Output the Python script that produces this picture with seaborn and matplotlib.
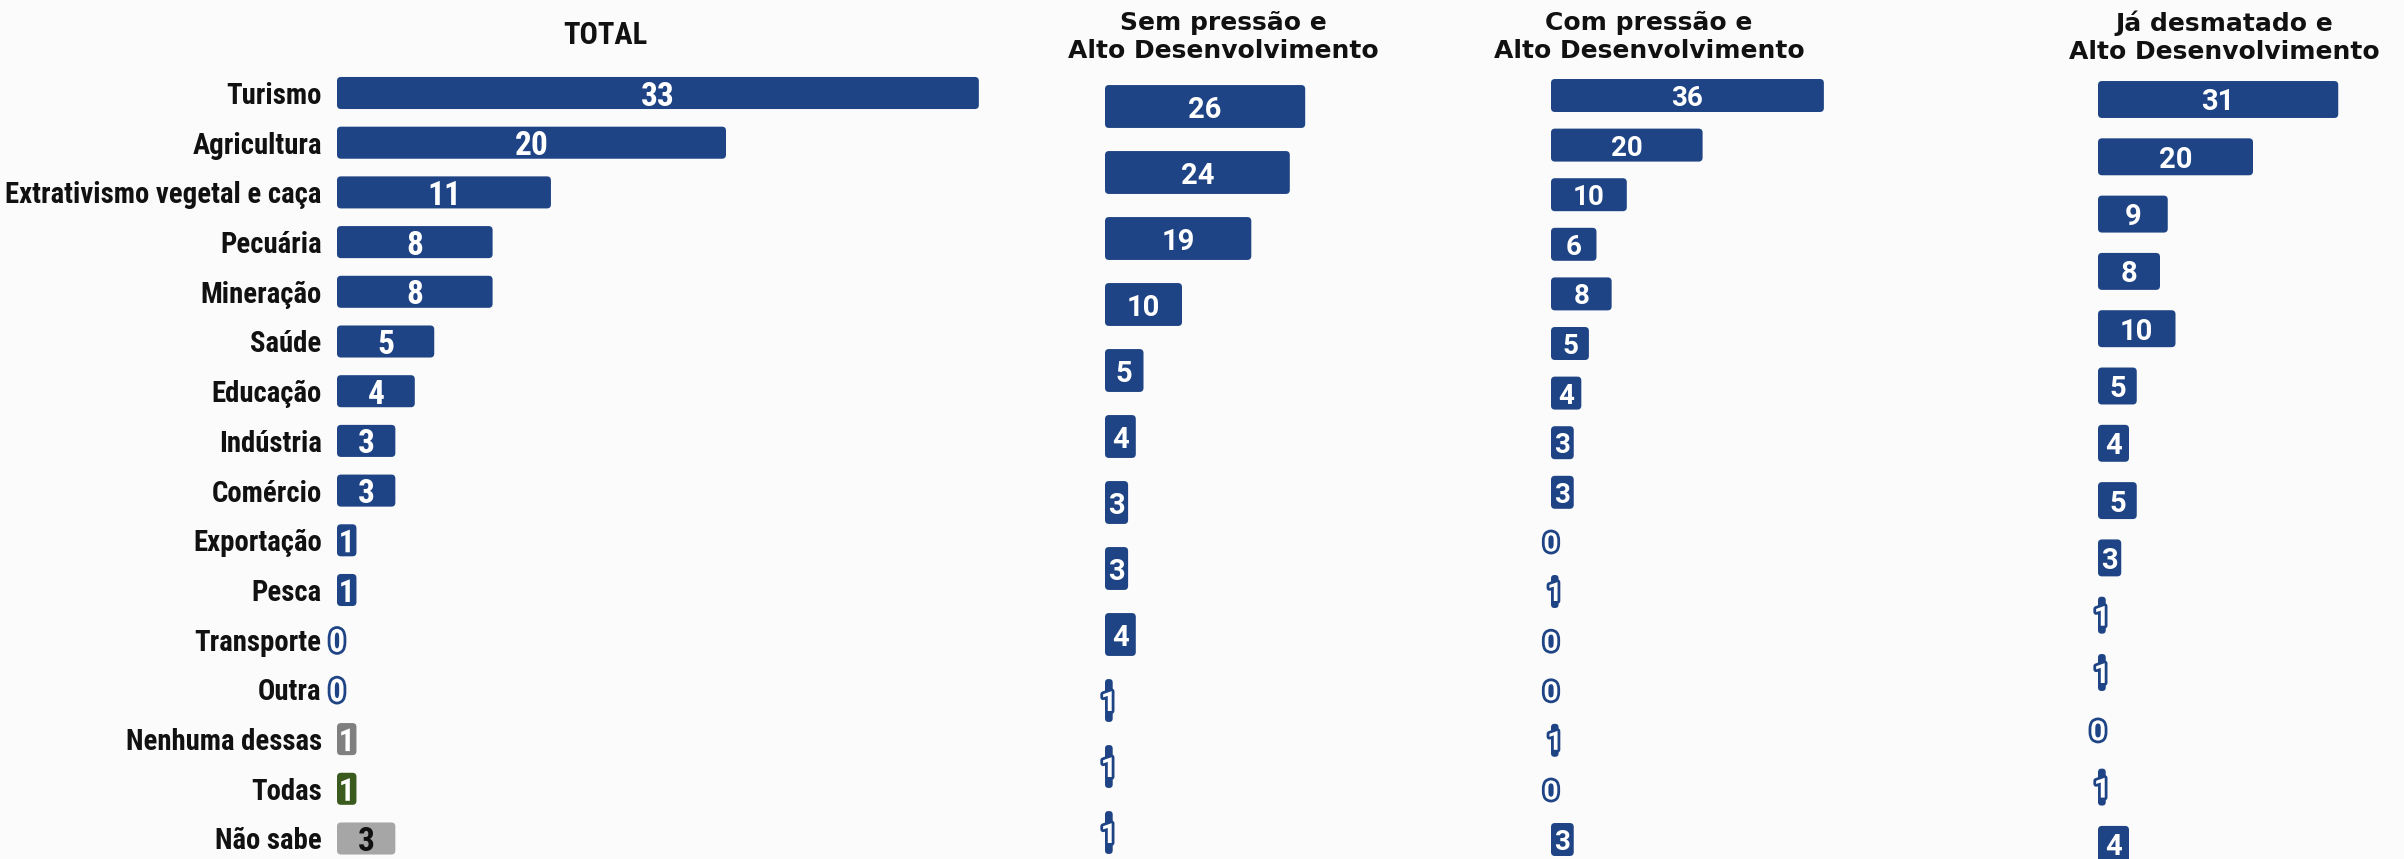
import matplotlib
matplotlib.use("Agg")
import matplotlib.pyplot as plt
import matplotlib.patheffects as pe
from matplotlib import font_manager
from matplotlib.patches import FancyBboxPatch
import seaborn as sns

# ---------------- data ----------------
total_labels = ["Turismo", "Agricultura", "Extrativismo vegetal e caça", "Pecuária",
                "Mineração", "Saúde", "Educação", "Indústria", "Comércio",
                "Exportação", "Pesca", "Transporte", "Outra", "Nenhuma dessas",
                "Todas", "Não sabe"]
total_values = [33, 20, 11, 8, 8, 5, 4, 3, 3, 1, 1, 0, 0, 1, 1, 3]

sem_pressao_values = [26, 24, 19, 10, 5, 4, 3, 3, 4, 1, 1, 1]
com_pressao_values = [36, 20, 10, 6, 8, 5, 4, 3, 3, 0, 1, 0, 0, 1, 0, 3]
ja_desmatado_values = [31, 20, 9, 8, 10, 5, 4, 5, 3, 1, 1, 0, 1, 4]

titles = ["TOTAL", "Sem pressão e\nAlto Desenvolvimento",
          "Com pressão e\nAlto Desenvolvimento", "Já desmatado e\nAlto Desenvolvimento"]

BLUE = "#1F4485"
total_colors = [BLUE] * 13 + ["#7F7F7F", "#3A5A1E", "#A6A6A6"]
total_text_colors = ["white"] * 15 + ["#111111"]

# ---------------- fonts ----------------
sns.set_theme(style="white")
avail = {f.name for f in font_manager.fontManager.ttflist}
def pick(*names):
    for n in names:
        if n in avail:
            return n
    return "DejaVu Sans"
COND = pick("Liberation Sans Narrow", "Roboto Condensed", "Open Sans Condensed", "DejaVu Sans")
NUM = pick("Roboto", "Open Sans", "DejaVu Sans")
TITLE = pick("DejaVu Sans")
plt.rcParams["font.family"] = [COND, "DejaVu Sans"]

W, H = 2404, 859
fig = plt.figure(figsize=(W / 100, H / 100), dpi=100)
fig.patch.set_facecolor("#FBFBFB")


def make_axes(x0, sx, y0, sy, x_right, y_top=55, y_bot=H):
    ax = fig.add_axes([x0 / W, 1 - y_bot / H, (x_right - x0) / W, (y_bot - y_top) / H])
    ax.set_facecolor("none")
    return ax, (0, (x_right - x0) / sx), ((y_bot - y0) / sy, (y_top - y0) / sy)


def style(ax, xlim, ylim):
    ax.set_xlim(*xlim)
    ax.set_ylim(*ylim)
    sns.despine(ax=ax, left=True, bottom=True)
    ax.set_xlabel("")
    ax.set_ylabel("")
    ax.set_xticks([])
    ax.grid(False)


def round_bars(ax, sx, sy, rad_px=4):
    for p in list(ax.patches):
        x, y = p.get_x(), p.get_y()
        w, h = p.get_width(), p.get_height()
        if w <= 0:
            p.remove()
            continue
        r_px = min(rad_px, w * sx / 2.2)
        fb = FancyBboxPatch((x, y), w, h,
                            boxstyle=f"round,pad=0,rounding_size={r_px / sx}",
                            mutation_aspect=sx / sy,
                            facecolor=p.get_facecolor(), edgecolor="none", zorder=p.get_zorder())
        p.remove()
        ax.add_patch(fb)


def label_bars(ax, values, sx_px, colors, text_colors, fsize, family):
    for i, v in enumerate(values):
        small = v * sx_px < fsize * 1.0
        if small:
            t = ax.text(v / 2, i, str(v), ha="center", va="center_baseline",
                        color="white", fontsize=fsize * 0.95, fontweight="bold",
                        family=family, zorder=5)
            t.set_path_effects([pe.Stroke(linewidth=4, foreground=colors[i]), pe.Normal()])
        else:
            ax.text(v / 2, i, str(v), ha="center", va="center_baseline",
                    color=text_colors[i], fontsize=fsize, fontweight="bold",
                    family=family, zorder=5)


# ---------------- panel 1: TOTAL ----------------
SX1, SY1 = 19.45, 49.7
ax1, xl, yl = make_axes(337, SX1, 93, SY1, 1020)
sns.barplot(x=total_values, y=total_labels, hue=total_labels, palette=total_colors,
            legend=False, orient="h", width=0.645, saturation=1, ax=ax1)
style(ax1, xl, yl)
round_bars(ax1, SX1, SY1)
ax1.tick_params(axis="y", length=0, pad=11, labelsize=20.7)
for lab in ax1.get_yticklabels():
    lab.set_fontweight("bold")
    lab.set_color("#111111")
    lab.set_family([COND, "DejaVu Sans"])
label_bars(ax1, total_values, SX1, total_colors, total_text_colors, 24, [COND, "DejaVu Sans"])

# ---------------- panels 2-4 ----------------
panels = [
    (sem_pressao_values, 1105, 7.7, 106.5, 66.0, 0.65, 1400, 21),
    (com_pressao_values, 1551, 7.58, 95.5, 49.6, 0.665, 1900, 20),
    (ja_desmatado_values, 2098, 7.75, 99.5, 57.3, 0.645, 2404, 21),
]
for vals, x0, sx, y0, sy, bw, xr, fs in panels:
    ax, xl, yl = make_axes(x0, sx, y0, sy, xr)
    cats = [str(i) for i in range(len(vals))]
    sns.barplot(x=vals, y=cats, orient="h", color=BLUE, width=bw, saturation=1, ax=ax)
    style(ax, xl, yl)
    round_bars(ax, sx, sy)
    ax.set_yticks([])
    label_bars(ax, vals, sx, [BLUE] * len(vals), ["white"] * len(vals), fs, [NUM, "DejaVu Sans"])

# ---------------- titles ----------------
fig.text(605 / W, 1 - 35 / H, titles[0], ha="center", va="center", fontsize=22,
         fontweight="bold", family=[COND, "DejaVu Sans"], color="#111111")
for title, xc in zip(titles[1:], [1223, 1649, 2224]):
    fig.text(xc / W, 1 - 37 / H, title, ha="center", va="center", fontsize=18,
             fontweight="bold", family=[TITLE], color="#111111", linespacing=1.2)

fig.savefig("out.png", dpi=100, facecolor=fig.get_facecolor())
